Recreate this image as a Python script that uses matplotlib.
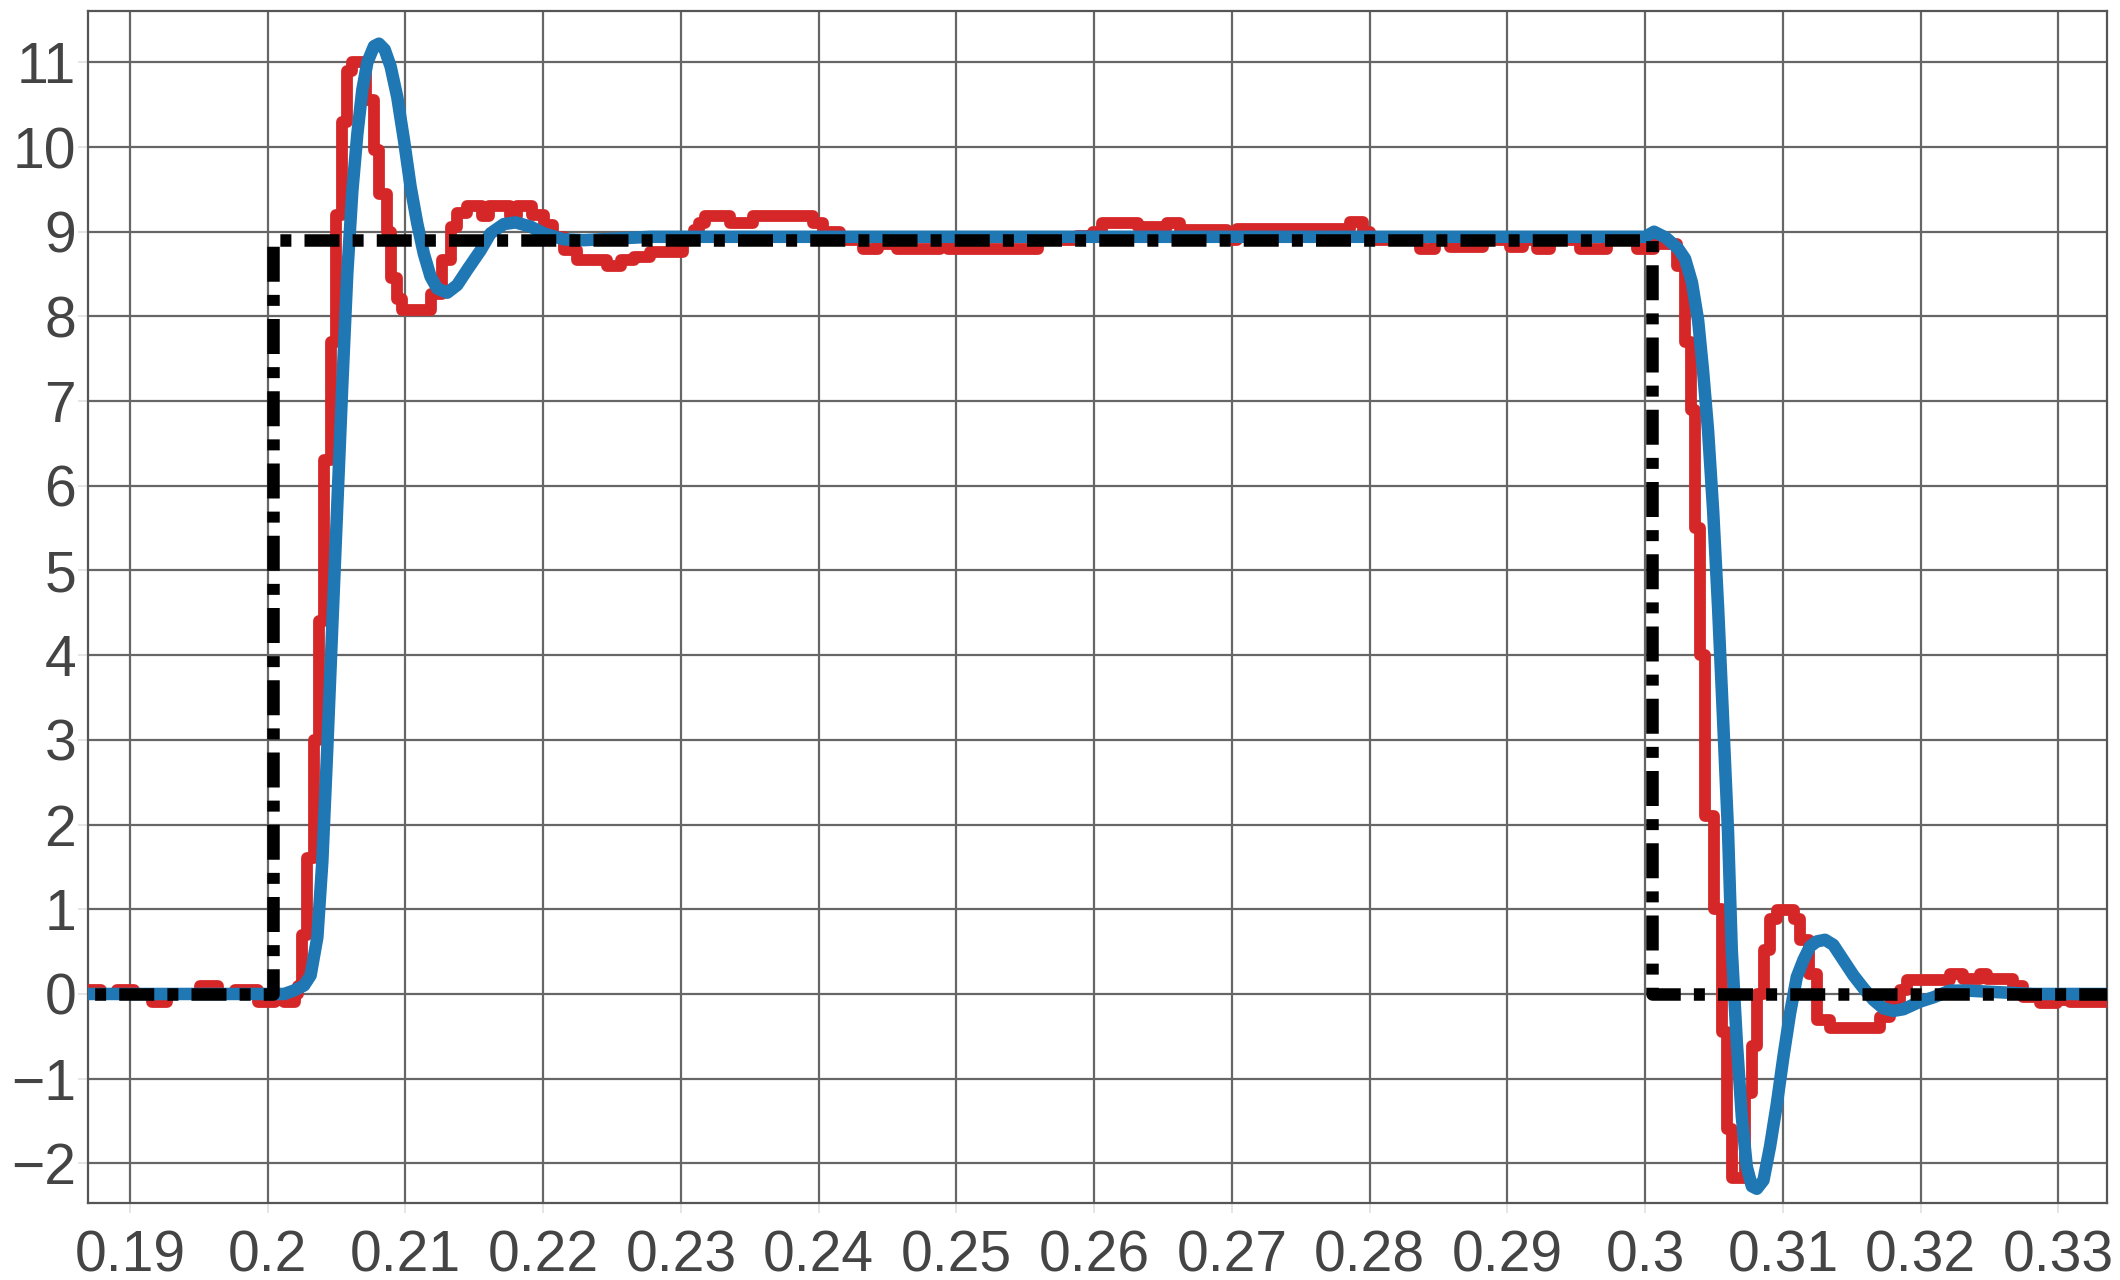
import matplotlib
matplotlib.use('Agg')
import matplotlib.pyplot as plt
from matplotlib.ticker import MultipleLocator, FuncFormatter

plt.rcParams['font.family'] = ['Liberation Sans', 'DejaVu Sans']

# measured signal (sample-and-hold, value changes at these times)
red_t = [0.1870, 0.1879, 0.1891, 0.1903, 0.1916, 0.1927, 0.1951, 0.1964, 0.1976, 0.1993,
         0.2005, 0.2012, 0.2020, 0.2022, 0.20252, 0.20288, 0.20336, 0.20373, 0.20409, 0.20457,
         0.20494, 0.20542, 0.20578, 0.20615, 0.20711, 0.20769, 0.20806, 0.20869, 0.20893, 0.20941,
         0.20977, 0.21183, 0.21268, 0.21328, 0.21377, 0.21449, 0.21558, 0.21606, 0.21763, 0.21812,
         0.21921, 0.22005, 0.22075, 0.22150, 0.22247, 0.22465, 0.22562, 0.22658, 0.22779, 0.23019,
         0.23092, 0.23128, 0.23178, 0.23360, 0.23527, 0.23962, 0.24035, 0.24158, 0.24325, 0.24434,
         0.24572, 0.24880, 0.24940, 0.25595, 0.25878, 0.25994, 0.26060, 0.26321, 0.26531, 0.26626,
         0.26966, 0.27039, 0.27859, 0.27954, 0.28004, 0.28367, 0.28476, 0.28585, 0.28824, 0.29020,
         0.29115, 0.29216, 0.29311, 0.29528, 0.29724, 0.29942, 0.30065, 0.30232, 0.30290, 0.30335,
         0.30360, 0.30395, 0.30435, 0.30500, 0.30560, 0.30595, 0.30630, 0.30726, 0.30775, 0.30811,
         0.30860, 0.30908, 0.30957, 0.31078, 0.31126, 0.31187, 0.31248, 0.31344, 0.31707, 0.31780,
         0.31852, 0.31901, 0.32215, 0.32311, 0.32432, 0.32480, 0.32674, 0.32746, 0.32867, 0.32988,
         0.33084, 0.33400]
red_v = [0.05, 0.00, 0.05, 0.00, -0.10, 0.00, 0.10, 0.00, 0.05, -0.10,
         0.00, -0.10, 0.00, 0.10, 0.70, 1.60, 3.00, 4.40, 6.30, 7.70,
         9.20, 10.30, 10.90, 11.00, 10.55, 9.96, 9.45, 9.00, 8.45, 8.20,
         8.08, 8.27, 8.67, 9.06, 9.22, 9.30, 9.18, 9.30, 9.18, 9.30,
         9.20, 9.08, 8.94, 8.78, 8.67, 8.60, 8.67, 8.70, 8.76, 8.90,
         9.02, 9.10, 9.18, 9.10, 9.18, 9.10, 9.00, 8.90, 8.80, 8.85,
         8.80, 8.88, 8.80, 8.90, 8.95, 9.00, 9.10, 9.05, 9.10, 9.02,
         8.90, 9.03, 9.12, 9.00, 8.90, 8.80, 8.90, 8.82, 8.90, 8.82,
         8.90, 8.80, 8.90, 8.80, 8.90, 8.80, 8.85, 8.60, 7.70, 6.90,
         5.50, 4.00, 2.10, 1.00, -0.45, -1.60, -2.17, -1.17, -0.62, 0.00,
         0.52, 0.89, 0.99, 0.89, 0.64, 0.24, -0.31, -0.40, -0.27, -0.11,
         0.05, 0.17, 0.24, 0.18, 0.24, 0.18, 0.09, -0.04, -0.11, -0.07,
         -0.09, -0.09]

# model response
blue_t = [0.1870, 0.2012, 0.2019, 0.20264, 0.20312, 0.20361, 0.20397, 0.20433, 0.20470, 0.20506,
          0.20542, 0.20578, 0.20615, 0.20651, 0.20687, 0.20724, 0.20772, 0.20808, 0.20850, 0.20893,
          0.20941, 0.20990, 0.21038, 0.21086, 0.21134, 0.21183, 0.21231, 0.21304, 0.21376, 0.21449,
          0.21546, 0.21618, 0.21715, 0.21800, 0.21909, 0.22005, 0.22150, 0.22296, 0.22538, 0.22779,
          0.30000, 0.30065, 0.30150, 0.30240, 0.30290, 0.30340, 0.30385, 0.30421, 0.30457, 0.30494,
          0.30530, 0.30566, 0.30602, 0.30629, 0.30666, 0.30702, 0.30738, 0.30775, 0.30811, 0.30859,
          0.30907, 0.30956, 0.31004, 0.31052, 0.31101, 0.31149, 0.31197, 0.31246, 0.31306, 0.31366,
          0.31439, 0.31512, 0.31584, 0.31657, 0.31730, 0.31802, 0.31875, 0.31996, 0.32092, 0.32213,
          0.32334, 0.32576, 0.32818, 0.33350]
blue_v = [0.00, 0.00, 0.04, 0.10, 0.22, 0.67, 1.56, 2.90, 4.37, 5.78,
          7.19, 8.50, 9.48, 10.15, 10.67, 11.00, 11.19, 11.22, 11.15, 10.95,
          10.59, 10.08, 9.53, 9.10, 8.74, 8.47, 8.33, 8.28, 8.37, 8.55,
          8.78, 8.98, 9.09, 9.11, 9.06, 8.98, 8.91, 8.90, 8.92, 8.94,
          8.94, 9.00, 8.93, 8.80, 8.68, 8.40, 7.95, 7.35, 6.65, 5.70,
          4.55, 3.24, 1.91, 0.52, -0.58, -1.45, -2.04, -2.27, -2.30, -2.20,
          -1.80, -1.30, -0.74, -0.23, 0.20, 0.40, 0.56, 0.62, 0.64, 0.58,
          0.40, 0.22, 0.07, -0.07, -0.17, -0.20, -0.18, -0.09, -0.04, 0.04,
          0.04, 0.02, 0.00, 0.00]

# reference step
ref_t = [0.1870, 0.2004, 0.2004, 0.3005, 0.3005, 0.3340]
ref_v = [0.0, 0.0, 8.9, 8.9, 0.0, 0.0]


def fmt(v, pos):
    return f'{round(v, 4):g}'.replace('-', '\u2212')


fig = plt.figure(figsize=(21.2, 12.8), dpi=100)
ax = fig.add_axes([88 / 2120, 77 / 1280, (2107 - 88) / 2120, (1269 - 77) / 1280])

ax.plot(red_t, red_v, drawstyle='steps-post', color='#d62728', lw=8.5, zorder=3)
ax.plot(blue_t, blue_v, color='#1f77b4', lw=9, zorder=4)
ax.plot(ref_t, ref_v, color='black', lw=9,
        ls=(3.4, (2.8, 1.05, 0.88, 1.05)), zorder=5)

ax.set_xlim(0.18696, 0.33353)
ax.set_ylim(-2.468, 11.606)
ax.xaxis.set_major_locator(MultipleLocator(0.01))
ax.yaxis.set_major_locator(MultipleLocator(1))
ax.xaxis.set_major_formatter(FuncFormatter(fmt))
ax.yaxis.set_major_formatter(FuncFormatter(fmt))

ax.set_axisbelow(True)
ax.grid(True, color='#666666', lw=1.6)
for sp in ax.spines.values():
    sp.set_color('#555555')
    sp.set_linewidth(1.6)

ax.tick_params(axis='both', length=7, width=1.2, color='#e0e0e0',
               labelcolor='#444444', labelsize=41)
ax.tick_params(axis='x', pad=12)
ax.tick_params(axis='y', pad=1.5)

fig.savefig('out.png', dpi=100, facecolor='white')
